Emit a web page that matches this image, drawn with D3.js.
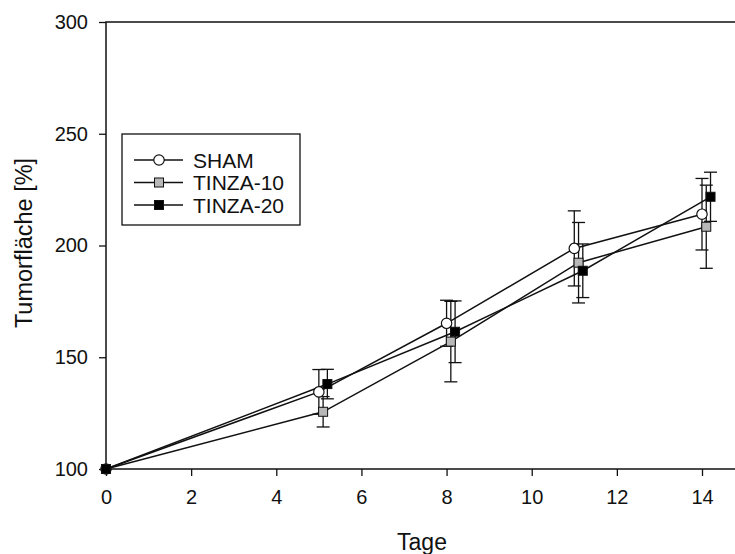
<!DOCTYPE html>
<html>
<head>
<meta charset="utf-8">
<script src="https://cdn.jsdelivr.net/npm/d3@7"></script>
<style>
  html, body { margin: 0; padding: 0; background: #fff; }
  svg { display: block; }
  text { font-family: "Liberation Sans", Arial, sans-serif; fill: #111; }
</style>
</head>
<body>
<svg id="chart" width="735" height="554"></svg>
<script>
// ---- data ----
const seriesNames = ["SHAM", "TINZA-10", "TINZA-20"];
const shamX = [0, 5, 8, 11, 14];
const shamY = [100, 134.5, 165.2, 198.7, 214];
const shamErr = [0, 10, 10.3, 16.8, 16];
const tinza10X = [0, 5.1, 8.1, 11.1, 14.1];
const tinza10Y = [100, 125.6, 157, 192.3, 208.4];
const tinza10Err = [0, 6.8, 18, 18, 18.6];
const tinza20X = [0, 5.2, 8.2, 11.2, 14.2];
const tinza20Y = [100, 138, 161.4, 188.7, 221.8];
const tinza20Err = [0, 6.6, 13.8, 12, 11];
const xTicks = [0, 2, 4, 6, 8, 10, 12, 14];
const yTicks = [100, 150, 200, 250, 300];
const xTitle = "Tage";
const yTitle = "Tumorfläche [%]";

const series = [
  { name: seriesNames[0], xs: shamX, ys: shamY, es: shamErr, shape: "circle", fill: "#ffffff" },
  { name: seriesNames[1], xs: tinza10X, ys: tinza10Y, es: tinza10Err, shape: "square", fill: "#b8b8b8" },
  { name: seriesNames[2], xs: tinza20X, ys: tinza20Y, es: tinza20Err, shape: "square", fill: "#000000" }
];

const svg = d3.select("#chart");
const plotLeft = 106, plotTop = 22, plotBottom = 469;
const x = d3.scaleLinear().domain([0, 15]).range([plotLeft, plotLeft + 15 * (596 / 14)]);
const y = d3.scaleLinear().domain([100, 300]).range([plotBottom, plotTop]);

// frame
svg.append("rect")
  .attr("x", x(0)).attr("y", y(300))
  .attr("width", x(15) - x(0)).attr("height", y(100) - y(300))
  .attr("fill", "none").attr("stroke", "#111").attr("stroke-width", 1.5);

// axes
const xAxis = d3.axisBottom(x).tickValues(xTicks).tickSize(7).tickPadding(14).tickFormat(d3.format("d"));
const gx = svg.append("g").attr("transform", `translate(0,${plotBottom})`).call(xAxis);
gx.select(".domain").remove();
gx.selectAll("line").attr("stroke", "#111").attr("stroke-width", 1.3);
gx.selectAll("text").attr("font-size", 20).style("font-family", "'Liberation Sans', Arial, sans-serif").attr("fill", "#111");

const yAxis = d3.axisLeft(y).tickValues(yTicks).tickSize(7).tickPadding(11).tickFormat(d3.format("d"));
const gy = svg.append("g").attr("transform", `translate(${plotLeft},0)`).call(yAxis);
gy.select(".domain").remove();
gy.selectAll("line").attr("stroke", "#111").attr("stroke-width", 1.3);
gy.selectAll("text").attr("font-size", 20).style("font-family", "'Liberation Sans', Arial, sans-serif").attr("fill", "#111");

// titles
svg.append("text").attr("x", 422).attr("y", 550).attr("text-anchor", "middle")
  .attr("font-size", 23).text(xTitle);
svg.append("text").attr("transform", "translate(32,243) rotate(-90)").attr("text-anchor", "middle")
  .attr("font-size", 23.5).text(yTitle);

const line = d3.line().x(d => x(d[0])).y(d => y(d[1]));
const capW = 13;

function drawMarker(g, shape, fill, cx, cy) {
  if (shape === "circle") {
    g.append("circle").attr("cx", cx).attr("cy", cy).attr("r", 5.2)
      .attr("fill", fill).attr("stroke", "#111").attr("stroke-width", 1.2);
  } else {
    const s = 9;
    g.append("rect").attr("x", cx - s / 2).attr("y", cy - s / 2).attr("width", s).attr("height", s)
      .attr("fill", fill).attr("stroke", "#111").attr("stroke-width", 1);
  }
}

// error bars
const gErr = svg.append("g");
series.forEach(s => {
  s.xs.forEach((xv, i) => {
    const e = s.es[i];
    if (!e) return;
    const cx = x(xv), y1 = y(s.ys[i] + e), y2 = y(s.ys[i] - e);
    gErr.append("line").attr("x1", cx).attr("x2", cx).attr("y1", y1).attr("y2", y2)
      .attr("stroke", "#111").attr("stroke-width", 1.3);
    [y1, y2].forEach(yy => gErr.append("line").attr("x1", cx - capW / 2).attr("x2", cx + capW / 2)
      .attr("y1", yy).attr("y2", yy).attr("stroke", "#111").attr("stroke-width", 1.3));
  });
});

// lines
series.forEach(s => {
  svg.append("path").datum(s.xs.map((xv, i) => [xv, s.ys[i]]))
    .attr("d", line).attr("fill", "none").attr("stroke", "#111").attr("stroke-width", 1.5);
});

// markers
const gm = svg.append("g");
series.forEach(s => {
  s.xs.forEach((xv, i) => drawMarker(gm, s.shape, s.fill, x(xv), y(s.ys[i])));
});

// legend
const lg = svg.append("g");
lg.append("rect").attr("x", 122).attr("y", 134).attr("width", 178).attr("height", 91)
  .attr("fill", "#fff").attr("stroke", "#111").attr("stroke-width", 1.3);
series.forEach((s, i) => {
  const ry = 160 + i * 22.5;
  lg.append("line").attr("x1", 134).attr("x2", 183).attr("y1", ry).attr("y2", ry)
    .attr("stroke", "#111").attr("stroke-width", 1.5);
  drawMarker(lg, s.shape, s.fill, 159, ry);
  lg.append("text").attr("x", 193).attr("y", ry + 7.5).attr("font-size", 21).text(s.name);
});
</script>
</body>
</html>
